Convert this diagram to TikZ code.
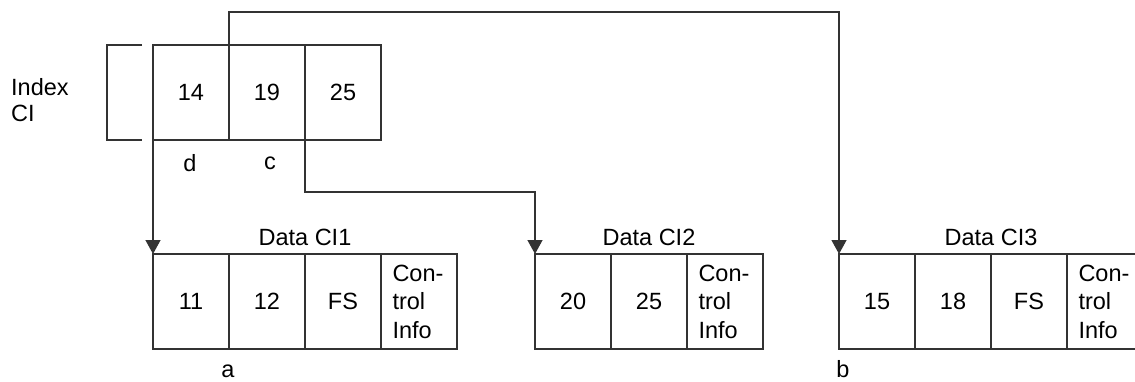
\documentclass[tikz,border=0pt]{standalone}
\usepackage{fontspec}
\setmainfont{Liberation Sans}
\usetikzlibrary{positioning,calc,arrows.meta}
\tikzset{
  cell/.style  = {draw=black!80, line width=1.3pt, rectangle, minimum width=76pt,
                  minimum height=95pt, inner sep=0pt, outer sep=0pt,
                  font=\fontsize{23.5}{28.5}\selectfont},
  info/.style  = {cell, align=left, text width=53pt},
  title/.style = {font=\fontsize{23.5}{26}\selectfont, inner sep=3pt},
  lbl/.style   = {font=\fontsize{23.5}{26}\selectfont, inner sep=0pt},
  link/.style  = {draw=black!80, line width=1.3pt, -{Triangle[width=15pt,length=14pt]}}
}

\begin{document}
\begin{tikzpicture}[x=1pt,y=-1pt]
      \useasboundingbox (0,0) rectangle (1135,381);
      \node[cell] (i1) at (191,92.5) {14};
      \node[cell, right=0pt of i1] (i2) {19};
      \node[cell, right=0pt of i2] (i3) {25};
      \draw[draw=black!80, line width=1.3pt] ([xshift=-11pt]i1.north west) -- ++(-35,0)
           |- ([xshift=-11pt]i1.south west);
      \node[lbl, align=left, anchor=west] (idx) at (11,100) {Index\\CI};
      \node[lbl] (d) at (190,163) {d};
      \node[lbl] (c) at (270,163) {c};

      \node[cell] (a1) at (191,301.5) {11};
      \node[cell, right=0pt of a1] (a2) {12};
      \node[cell, right=0pt of a2] (a3) {FS};
      \node[info, right=0pt of a3] (a4) {Con-\\trol\\Info};
      \node[title, above=5pt] (ta) at ($(a1.north west)!0.5!(a4.north east)$) {Data CI1};

      \node[cell] (b1) at (573,301.5) {20};
      \node[cell, right=0pt of b1] (b2) {25};
      \node[info, right=0pt of b2] (b3) {Con-\\trol\\Info};
      \node[title, above=5pt] (tb) at ($(b1.north west)!0.5!(b3.north east)$) {Data CI2};

      \node[cell] (c1) at (877,301.5) {15};
      \node[cell, right=0pt of c1] (c2) {18};
      \node[cell, right=0pt of c2] (c3) {FS};
      \node[info, right=0pt of c3] (c4) {Con-\\trol\\Info};
      \node[title, above=5pt] (tc) at ($(c1.north west)!0.5!(c4.north east)$) {Data CI3};

      \node[lbl] (la) at (228,371) {a};
      \node[lbl] (lb) at (843,369) {b};

      \draw[link] (i1.south west) -- (a1.north west);
      \draw[link] (i3.south west) -- ++(0,52) -| (b1.north west);
      \draw[link] (i2.north west) -- ++(0,-33) -| (c1.north west);
\end{tikzpicture}
\end{document}
